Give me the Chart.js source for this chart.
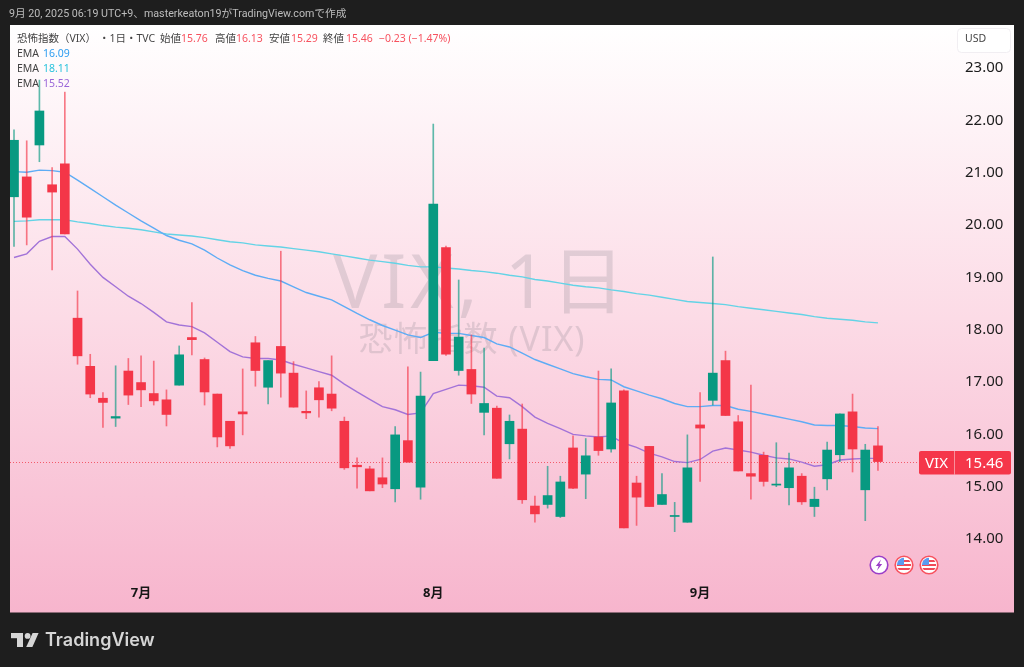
<!DOCTYPE html>
<html lang="ja">
<head>
<meta charset="utf-8">
<title>VIX</title>
<style>html,body{margin:0;padding:0;background:#1e1e1e;overflow:hidden}canvas{display:block}</style>
<script src="https://cdn.jsdelivr.net/npm/chart.js@4"></script>
</head>
<body>
<canvas id="c" width="1024" height="667" style="width:1024px;height:667px"></canvas>
<script>
const opens=[20.52,20.90,21.51,20.75,21.15,18.20,17.28,16.67,16.29,17.19,16.97,16.76,16.64,16.92,17.83,17.41,16.75,16.23,16.41,17.73,16.88,17.66,17.15,16.42,16.87,16.75,16.23,15.39,15.32,15.15,14.94,15.86,14.97,17.39,19.55,17.20,17.22,16.40,16.48,15.80,16.08,14.61,14.64,14.41,15.72,15.22,15.93,15.70,16.81,15.05,15.75,14.64,14.41,14.30,16.16,16.63,17.39,16.22,15.23,15.58,15.01,14.96,15.18,14.60,15.13,15.59,16.41,14.92,15.76];
const highs=[21.80,21.59,22.75,21.08,22.52,18.72,17.51,16.78,17.29,17.43,17.48,17.38,16.83,17.67,18.50,17.44,16.75,16.23,17.23,17.85,17.39,19.48,17.37,16.81,16.99,17.48,16.31,15.53,15.37,15.53,16.13,17.27,17.17,21.91,19.58,18.93,17.88,17.63,16.52,16.35,16.56,14.80,15.37,15.18,15.95,15.90,17.19,17.23,16.83,15.18,15.75,15.23,14.68,15.97,16.78,19.37,17.57,16.34,16.92,15.64,15.82,15.62,15.23,14.97,15.83,16.37,16.75,15.79,16.13];
const lows=[19.57,19.60,21.19,19.12,19.81,17.32,16.68,16.11,16.13,16.55,16.51,16.54,16.14,16.92,17.50,16.54,15.74,15.71,15.97,16.90,16.56,16.69,16.50,16.28,16.31,16.43,15.31,14.95,14.90,14.96,14.69,15.45,14.74,17.39,17.49,17.11,16.57,15.97,15.14,15.51,14.66,14.30,14.57,14.39,14.94,14.75,15.58,15.64,14.19,14.24,14.60,14.64,14.12,14.30,15.08,16.54,16.34,15.28,14.74,14.99,14.98,14.63,14.64,14.41,14.92,15.46,15.26,14.33,15.29];
const closes=[21.60,20.13,22.16,20.61,19.81,17.48,16.75,16.59,16.32,16.73,16.83,16.62,16.36,17.50,17.79,16.79,15.93,15.76,16.37,17.20,17.39,17.15,16.50,16.39,16.64,16.48,15.34,15.36,14.90,15.03,15.97,15.45,16.71,20.38,17.51,17.84,16.75,16.57,15.14,16.23,14.73,14.46,14.81,15.07,14.95,15.57,15.67,16.58,14.19,14.78,14.60,14.83,14.43,15.34,16.10,17.15,16.34,15.28,15.18,15.08,15.03,15.34,14.69,14.74,15.68,16.37,15.70,15.68,15.46];
const emaBlue=[21.00,20.99,21.03,21.02,20.99,20.84,20.68,20.52,20.36,20.21,20.06,19.92,19.78,19.69,19.62,19.50,19.35,19.22,19.11,19.02,18.96,18.91,18.80,18.69,18.62,18.55,18.42,18.29,18.17,18.06,17.97,17.88,17.83,17.93,17.91,17.91,17.87,17.83,17.71,17.65,17.53,17.41,17.32,17.23,17.14,17.08,17.03,17.02,16.89,16.81,16.73,16.66,16.57,16.51,16.51,16.53,16.53,16.46,16.42,16.37,16.32,16.27,16.22,16.16,16.15,16.15,16.13,16.10,16.09];
const emaCyan=[20.05,20.06,20.08,20.08,20.08,20.04,20.01,19.97,19.94,19.92,19.89,19.85,19.81,19.79,19.77,19.74,19.70,19.66,19.64,19.60,19.58,19.56,19.53,19.50,19.47,19.43,19.39,19.35,19.31,19.28,19.25,19.21,19.18,19.18,19.16,19.14,19.11,19.09,19.06,19.02,18.99,18.94,18.91,18.87,18.83,18.80,18.78,18.74,18.71,18.67,18.64,18.60,18.56,18.52,18.50,18.48,18.46,18.42,18.39,18.36,18.33,18.30,18.27,18.23,18.20,18.18,18.16,18.13,18.11];
const emaPurple=[19.36,19.43,19.67,19.76,19.76,19.52,19.23,18.98,18.80,18.62,18.48,18.31,18.13,18.07,18.04,17.92,17.74,17.56,17.46,17.43,17.43,17.40,17.32,17.25,17.18,17.11,16.94,16.79,16.65,16.51,16.45,16.36,16.39,16.76,16.84,16.92,16.91,16.88,16.71,16.68,16.51,16.31,16.19,16.09,15.98,15.95,15.93,15.95,15.81,15.73,15.62,15.55,15.46,15.44,15.50,15.66,15.72,15.68,15.64,15.58,15.53,15.51,15.45,15.37,15.40,15.49,15.51,15.52,15.52];
const priceTicks=[14,15,16,17,18,19,20,21,22,23];
const monthTicks=[10,33,54];
const monthLabels=['7月','8月','9月'];

const UP='#089981', DOWN='#f43648';
const FONT='"Noto Sans","Noto Sans CJK JP",sans-serif';
const idx=opens.map((_,i)=>i);
const last=opens.length-1;
const isUp=i=>closes[i]>=opens[i];

const decor={
  id:'decor',
  beforeDraw(ch){
    const g=ch.ctx;
    g.save();
    g.fillStyle='#1e1e1e';g.fillRect(0,0,1024,667);
    const gr=g.createLinearGradient(0,25,0,612);
    gr.addColorStop(0,'#ffffff');gr.addColorStop(0.5,'#fcdbe6');gr.addColorStop(1,'#f7b5cd');
    g.fillStyle=gr;g.fillRect(10,25,1004,587.5);
    g.fillStyle='#bdbdbd';g.font='10.7px Roboto,"Noto Sans CJK JP",sans-serif';g.textBaseline='middle';g.textAlign='left';
    g.fillText('9月 20, 2025 06:19 UTC+9、masterkeaton19がTradingView.comで作成',9,14);
    // TradingView logo
    g.fillStyle='#d6d6d6';
    g.fillRect(11,633,12,5.2);g.fillRect(17,633,6,14);
    g.beginPath();g.arc(27.6,635.9,2.9,0,7);g.fill();
    g.beginPath();g.moveTo(32.6,633);g.lineTo(38.6,633);g.lineTo(32.4,647);g.lineTo(26.2,647);g.closePath();g.fill();
    g.font='600 18px Inter,'+FONT;g.fillStyle='#d6d6d6';
    g.fillText('TradingView',45,640.5);
    g.restore();
  },
  beforeDatasetsDraw(ch){
    const g=ch.ctx,y=ch.scales.y.getPixelForValue(closes[last]);
    g.save();
    g.fillStyle='rgba(115,115,125,0.2)';g.textAlign='center';g.textBaseline='middle';
    g.letterSpacing='4px';
    g.font='74px '+FONT;g.fillText('VIX, 1日',481,287);
    g.letterSpacing='1px';
    g.font='34px '+FONT;g.fillText('恐怖指数 (VIX)',472,341);
    g.letterSpacing='0px';
    g.strokeStyle='rgba(242,54,69,0.75)';g.lineWidth=1;g.setLineDash([1,2]);
    g.beginPath();g.moveTo(10,Math.round(y)+0.5);g.lineTo(920,Math.round(y)+0.5);g.stroke();
    g.restore();
  },
  afterDraw(ch){
    const g=ch.ctx,y=ch.scales.y.getPixelForValue(closes[last]);
    g.save();g.textBaseline='middle';g.textAlign='left';
    // legend
    g.font='10.5px '+FONT;
    const row=[['恐怖指数（VIX）',17,'#444'],['・1日・TVC',99,'#444'],['始値',160,'#444'],[opens[last].toFixed(2),181,'#f7525f'],['高値',215,'#444'],[highs[last].toFixed(2),236,'#f7525f'],['安値',269,'#444'],[lows[last].toFixed(2),291,'#f7525f'],['終値',323,'#444'],[closes[last].toFixed(2),346,'#f7525f'],['−0.23 (−1.47%)',379,'#f7525f']];
    row.forEach(r=>{g.fillStyle=r[2];g.fillText(r[0],r[1],39);});
    [[54,emaBlue,'#2e9df0'],[69,emaCyan,'#2cc3dc'],[84,emaPurple,'#9a66d8']].forEach(r=>{
      g.fillStyle='#444';g.fillText('EMA',17,r[0]);
      g.fillStyle=r[2];g.fillText(r[1][last].toFixed(2),43,r[0]);
    });
    // USD box
    g.fillStyle='rgba(255,255,255,0.85)';g.strokeStyle='#f1eef2';g.lineWidth=1;
    g.beginPath();g.roundRect(957.5,28.5,53,24,4);g.fill();g.stroke();
    g.fillStyle='#444';g.font='10.5px '+FONT;g.fillText('USD',965,39);
    // last price tag
    const t=Math.round(y)-11;
    g.fillStyle='#f5364a';g.beginPath();g.roundRect(919,t,92,23.5,2);g.fill();
    g.fillStyle='rgba(255,255,255,0.45)';g.fillRect(954,t,1,23.5);
    g.fillStyle='#fff';g.font='15px '+FONT;
    g.textAlign='center';g.fillText('VIX',936.5,t+12.5);
    g.textAlign='left';g.fillText(closes[last].toFixed(2),965,t+12.5);
    // event icons
    const ring=(x,c)=>{g.fillStyle='#fff';g.strokeStyle=c;g.lineWidth=1.6;g.beginPath();g.arc(x,565,8.8,0,7);g.fill();g.stroke();};
    ring(879,'#9c3fc8');
    g.fillStyle='#9c3fc8';g.beginPath();g.moveTo(881,559.5);g.lineTo(875.8,566);g.lineTo(878.6,566);g.lineTo(877,570.5);g.lineTo(882.2,564);g.lineTo(879.4,564);g.closePath();g.fill();
    [904,929].forEach(x=>{
      ring(x,'#f7525f');
      g.save();g.beginPath();g.arc(x,565,7.2,0,7);g.clip();
      g.fillStyle='#fff';g.fillRect(x-8,557,16,16);
      g.fillStyle='#f04a58';g.fillRect(x-8,560,16,2);g.fillRect(x-8,564,16,2);g.fillRect(x-8,568,16,2);
      g.fillStyle='#5b9bf0';g.fillRect(x-8,557,8,8);
      g.restore();
    });
    g.restore();
  }
};

new Chart(document.getElementById('c'),{
  type:'bar',
  plugins:[decor],
  data:{datasets:[
    {type:'line',label:'EMA 200',data:idx.map(i=>({x:i,y:emaCyan[i]})),borderColor:'#63d3e6',borderWidth:1.4,pointRadius:0,tension:0,order:5},
    {type:'line',label:'EMA 50',data:idx.map(i=>({x:i,y:emaBlue[i]})),borderColor:'#5eacf5',borderWidth:1.4,pointRadius:0,tension:0,order:4},
    {type:'line',label:'EMA 20',data:idx.map(i=>({x:i,y:emaPurple[i]})),borderColor:'#a273d8',borderWidth:1.4,pointRadius:0,tension:0,order:3},
    {label:'wick',data:idx.map(i=>({x:i,y:[lows[i],highs[i]]})),barThickness:1,grouped:false,order:2,
      backgroundColor:c=>isUp(c.dataIndex)?'rgba(8,153,129,0.65)':'rgba(244,54,72,0.65)'},
    {label:'body',data:idx.map(i=>({x:i,y:[Math.min(opens[i],closes[i]),Math.max(opens[i],closes[i])]})),barThickness:9,grouped:false,order:1,
      backgroundColor:c=>isUp(c.dataIndex)?UP:DOWN}
  ]},
  options:{
    responsive:false,animation:false,devicePixelRatio:1,
    layout:{padding:{left:10,top:25,right:10,bottom:55}},
    plugins:{legend:{display:false},tooltip:{enabled:false}},
    scales:{
      x:{type:'linear',offset:false,min:-0.315,max:73.67,
        grid:{display:false,drawTicks:false},border:{display:false},
        afterBuildTicks(s){s.ticks=monthTicks.map(v=>({value:v}));},
        afterFit(s){s.height=37;},
        ticks:{autoSkip:false,maxRotation:0,padding:10,color:'#161616',font:{family:FONT,size:13,weight:'bold'},
          callback(v){return monthLabels[monthTicks.indexOf(v)];}}
      },
      y:{type:'linear',position:'right',min:13.292,max:23.803,
        grid:{display:false,drawTicks:false},border:{display:false},
        afterBuildTicks(s){s.ticks=priceTicks.map(v=>({value:v}));},
        afterFit(s){s.width=64;},
        afterUpdate(s){
          if(s.__shifted)return;
          s.__shifted=true;
          const orig=s.getLabelItems.bind(s);
          s.getLabelItems=a=>orig(a).map(it=>({...it,textOffset:it.textOffset+1}));
        },
        ticks:{autoSkip:false,padding:15,color:'#1c1c1c',font:{family:FONT,size:15},
          callback(v){return v.toFixed(2);}}
      }
    }
  }
});
</script>
</body>
</html>
